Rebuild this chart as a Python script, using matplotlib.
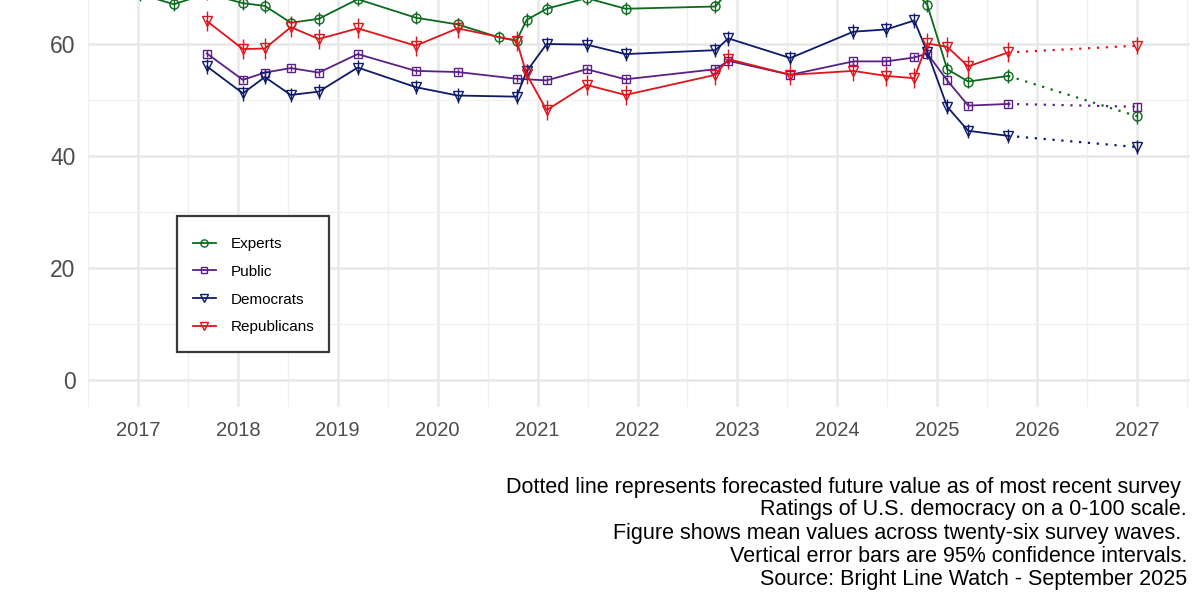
import matplotlib
matplotlib.use("Agg")
import matplotlib.pyplot as plt
from matplotlib.patches import Rectangle
from matplotlib.ticker import MultipleLocator

plt.rcParams['font.family'] = ['Liberation Sans', 'DejaVu Sans']

# Survey waves (decimal year)
expert_dates = [2017.02, 2017.36, 2017.69, 2018.05, 2018.27, 2018.53, 2018.81, 2019.20,
                2019.78, 2020.20, 2020.61, 2020.79, 2020.89, 2021.09, 2021.49, 2021.88,
                2022.78, 2022.91, 2023.53, 2024.16, 2024.49, 2024.77, 2024.90, 2025.10,
                2025.31, 2025.71]
expert_vals = [68.9, 67.1, 69.0, 67.3, 66.8, 63.8, 64.5, 68.0,
               64.7, 63.5, 61.2, 60.6, 64.3, 66.3, 68.2, 66.3,
               66.7, 69.5, 69.4, 70.0, 70.3, 69.6, 67.0, 55.5,
               53.3, 54.3]
expert_err = [1.2] * 26

public_dates = [2017.69, 2018.05, 2018.27, 2018.53, 2018.81, 2019.20, 2019.78, 2020.20,
                2020.79, 2021.09, 2021.49, 2021.88, 2022.78, 2022.91, 2023.53, 2024.16,
                2024.49, 2024.77, 2024.90, 2025.10, 2025.31, 2025.71]
public_vals = [58.3, 53.6, 54.9, 55.7, 54.9, 58.2, 55.2, 55.0,
               53.8, 53.5, 55.5, 53.7, 55.5, 57.0, 54.5, 56.9,
               56.9, 57.6, 58.3, 53.5, 49.0, 49.3]
public_err = [0.6] * 22

party_dates = [2017.69, 2018.05, 2018.27, 2018.53, 2018.81, 2019.20, 2019.78, 2020.20,
               2020.79, 2020.89, 2021.09, 2021.49, 2021.88, 2022.78, 2022.91, 2023.53,
               2024.16, 2024.49, 2024.77, 2024.90, 2025.10, 2025.31, 2025.71]
dem_vals = [56.0, 51.2, 54.1, 50.9, 51.5, 55.8, 52.3, 50.8,
            50.6, 55.1, 60.0, 59.9, 58.2, 58.9, 61.0, 57.5,
            62.2, 62.6, 64.2, 58.6, 48.8, 44.5, 43.6]
dem_err = [1.3] * 23
rep_vals = [64.1, 59.1, 59.2, 63.0, 60.9, 62.8, 59.7, 62.8,
            60.6, 54.6, 48.2, 52.7, 50.9, 54.5, 57.3, 54.5,
            55.2, 54.3, 53.9, 60.1, 59.5, 56.0, 58.5]
rep_err = [1.8] * 23

# Forecast for 2027 (dotted)
forecast_date = 2027.0
forecast = {"Experts": (47.1, 1.3), "Public": (48.8, 0.6),
            "Democrats": (41.6, 1.3), "Republicans": (59.7, 1.5)}

series = [
    ("Experts", expert_dates, expert_vals, expert_err, "#0b6b1c", "o", 6.5),
    ("Public", public_dates, public_vals, public_err, "#5b2085", "s", 5.5),
    ("Democrats", party_dates, dem_vals, dem_err, "#0e1a6b", "v", 7),
    ("Republicans", party_dates, rep_vals, rep_err, "#e0141a", "v", 7),
]

caption = [
    "Dotted line represents forecasted future value as of most recent survey ",
    "Ratings of U.S. democracy on a 0-100 scale.",
    "Figure shows mean values across twenty-six survey waves. ",
    "Vertical error bars are 95% confidence intervals.",
    "Source: Bright Line Watch - September 2025",
]

fig = plt.figure(figsize=(12, 6), dpi=100)
ax = fig.add_axes([88 / 1200, 193 / 600, 1102 / 1200, 407 / 600])

for name, x, y, err, color, marker, ms in series:
    fy, ferr = forecast[name]
    ax.errorbar(x + [forecast_date], y + [fy], yerr=err + [ferr], fmt="none",
                ecolor=color, elinewidth=1.0, capsize=0, zorder=3)
    ax.plot([x[-1], forecast_date], [y[-1], fy], linestyle=(0, (1, 3)), lw=1.6,
            color=color, zorder=3)
    ax.plot([forecast_date], [fy], linestyle="none", marker=marker, ms=ms,
            mfc="none", mec=color, mew=1.0, zorder=4)
    ax.plot(x, y, color=color, lw=1.3, marker=marker, ms=ms, mfc="none",
            mec=color, mew=1.0, label=name, zorder=4)

ax.set_xlim(2016.5, 2027.53)
ax.set_ylim(-4.82, 67.86)
ax.xaxis.set_major_locator(MultipleLocator(1))
ax.xaxis.set_minor_locator(MultipleLocator(0.5))
ax.yaxis.set_major_locator(MultipleLocator(20))
ax.yaxis.set_minor_locator(MultipleLocator(10))
ax.grid(which="major", color="#e8e8e8", lw=1.8)
ax.grid(which="minor", color="#f0f0f0", lw=1.0)
ax.set_axisbelow(True)
for s in ax.spines.values():
    s.set_visible(False)
ax.tick_params(which="both", length=0)
ax.tick_params(axis="y", labelsize=16.5, labelcolor="#4d4d4d", pad=9)
ax.tick_params(axis="x", labelsize=14.5, labelcolor="#4d4d4d", pad=10)

# legend box drawn by hand, entries placed inside it
ax.add_patch(Rectangle((177 / 1200, 1 - 352 / 600), 152 / 1200, 136 / 600,
                       transform=fig.transFigure, facecolor="white", clip_on=False,
                       edgecolor="#3a3a3a", linewidth=1.6, zorder=5))
leg = ax.legend(loc="upper left", bbox_to_anchor=(193 / 1200, 1 - 237 / 600),
                bbox_transform=fig.transFigure, borderaxespad=0, borderpad=0,
                frameon=False, fontsize=11, handlelength=1.5, handletextpad=1.0,
                labelspacing=0.9, markerscale=0.8)
leg.set_zorder(6)

for i, line in enumerate(caption):
    fig.text(1187 / 1200, 1 - (487 + 23 * i) / 600, line, ha="right", va="center",
             fontsize=15.5, color="black")

fig.savefig("out.png", dpi=100)
